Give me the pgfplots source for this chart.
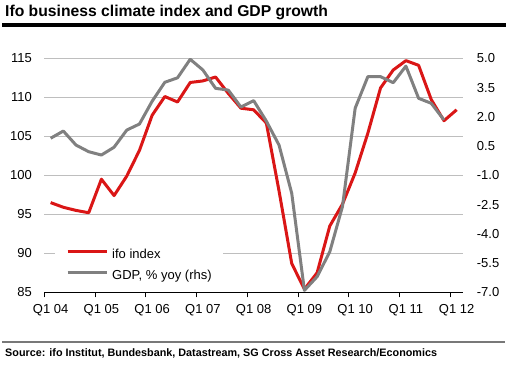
\documentclass[border=0pt]{standalone}
\usepackage{fontspec}
\setmainfont{Liberation Sans}
\usepackage{pgfplots}
\usepackage{pgfplotstable}
\pgfplotsset{compat=1.18}
\definecolor{sgred}{RGB}{218,22,22}
\definecolor{sggray}{RGB}{128,128,128}
\definecolor{gridgray}{RGB}{190,190,190}
\definecolor{rulegray}{RGB}{120,120,120}

\pgfplotstableread{
x y
0 96.5
1 95.9
2 95.5
3 95.2
4 99.5
5 97.4
6 99.9
7 103.2
8 107.7
9 110.1
10 109.4
11 111.9
12 112.1
13 112.6
14 110.5
15 108.6
16 108.4
17 106.7
18 98.0
19 88.7
20 85.4
21 87.5
22 93.5
23 96.3
24 100.3
25 105.4
26 111.2
27 113.5
28 114.7
29 114.1
30 109.7
31 107.0
32 108.4
}\ifotab

\pgfplotstableread{
x y
0 0.90
1 1.27
2 0.55
3 0.21
4 0.04
5 0.44
6 1.32
7 1.63
8 2.80
9 3.77
10 4.00
11 4.95
12 4.40
13 3.46
14 3.37
15 2.50
16 2.83
17 1.78
18 0.55
19 -1.92
20 -6.90
21 -6.20
22 -4.92
23 -2.60
24 2.44
25 4.06
26 4.06
27 3.75
28 4.60
29 2.95
30 2.69
31 1.84
}\gdptab

\begin{document}
\begin{tikzpicture}[x=1bp,y=1bp]
\path[use as bounding box] (0,0) rectangle (510,365);
\node[anchor=base west, font=\bfseries\fontsize{15.7bp}{18bp}\selectfont, inner sep=0pt] at (5,348.5) {Ifo business climate index and GDP growth};
\fill[black] (2,337.7) rectangle (506,341.7);
\fill[rulegray] (2,22.3) rectangle (505,24.3);
\node[anchor=base west, font=\bfseries\fontsize{10.8bp}{12bp}\selectfont, inner sep=0pt] at (5,8.3) {Source: ifo Institut, Bundesbank, Datastream, SG Cross Asset Research/Economics};

\begin{axis}[
  at={(44.3bp,72.7bp)}, anchor=south west,
  scale only axis, width=418.7bp, height=234bp,
  xmin=-0.5, xmax=32.5, ymin=85, ymax=115,
  ytick={85,90,...,115},
  ymajorgrids, grid style={gridgray, line width=0.8bp},
  axis x line*=bottom, axis y line*=left,
  x axis line style={black, line width=0.8bp, -},
  y axis line style={draw=none},
  ytick style={draw=none},
  tick align=outside, major tick length=5bp,
  xtick={-0.5,3.5,...,31.5}, xticklabels={},
  xtick style={black, line width=0.8bp},
  extra x ticks={0,4,8,12,16,20,24,28,32},
  extra x tick labels={Q1 04,Q1 05,Q1 06,Q1 07,Q1 08,Q1 09,Q1 10,Q1 11,Q1 12},
  extra x tick style={tick style={draw=none}, grid=none},
  tick label style={font=\fontsize{13bp}{15bp}\selectfont},
  /pgf/number format/assume math mode=true,
  yticklabel style={inner sep=0pt, xshift=-7.3bp},
  xticklabel style={inner sep=0pt, yshift=-7bp},
]
\addplot[sgred, line width=3bp, line join=round] table {\ifotab};
\end{axis}

\begin{axis}[
  at={(44.3bp,72.7bp)}, anchor=south west,
  scale only axis, width=418.7bp, height=234bp,
  xmin=-0.5, xmax=32.5, ymin=-7, ymax=5,
  ytick={-7,-5.5,-4,-2.5,-1,0.5,2,3.5,5},
  axis y line*=right, axis x line=none,
  y axis line style={draw=none},
  ytick style={draw=none},
  tick align=outside, major tick length=5bp,
  xtick=\empty,
  tick label style={font=\fontsize{13bp}{15bp}\selectfont},
  yticklabel style={inner sep=0pt, xshift=8.7bp, anchor=west,
    /pgf/number format/.cd, fixed, fixed zerofill, precision=1, assume math mode=true},
  legend cell align=left,
  legend image code/.code={\draw[#1] (0bp,4.5bp) -- (39bp,4.5bp);},
  legend style={draw=none, fill=white, at={(axis description cs:0.0256,0.2107)}, anchor=north west,
    inner xsep=11bp, inner ysep=6.7bp, row sep=8.8bp, column sep=4bp,
    font=\fontsize{13bp}{15bp}\selectfont,
    nodes={inner sep=0pt, text height=9bp, text depth=3bp}},
]
\addlegendimage{sgred, line width=3bp}
\addlegendentry{ifo index}
\addplot[sggray, line width=3bp, line join=round] table {\gdptab};
\addlegendentry{GDP, \% yoy (rhs)}
\end{axis}
\end{tikzpicture}
\end{document}
